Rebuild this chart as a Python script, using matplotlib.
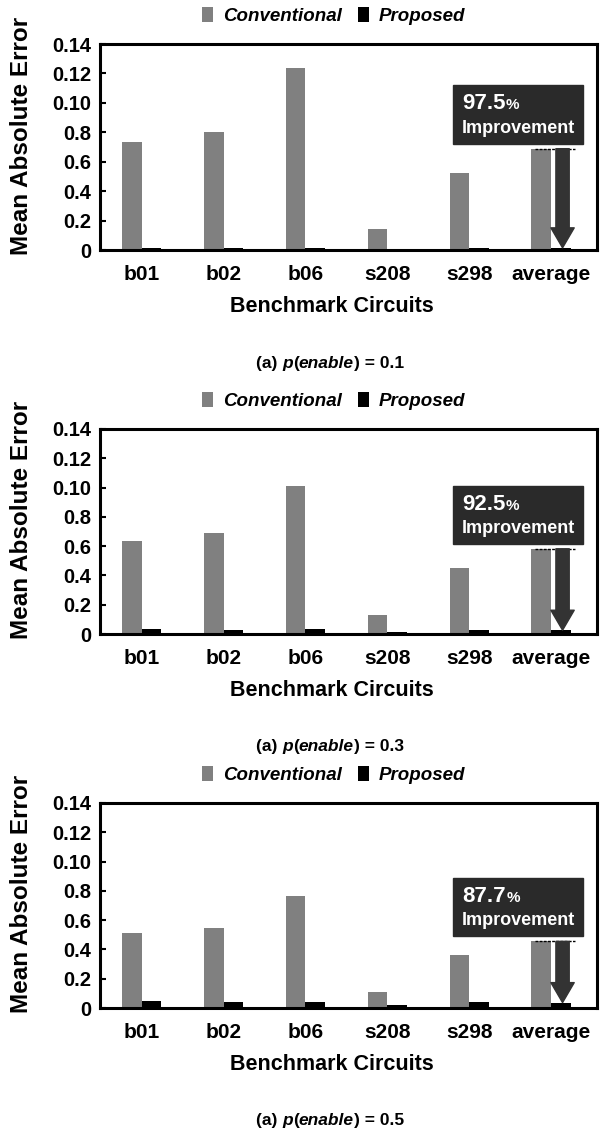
import matplotlib
matplotlib.use("Agg")
import matplotlib.pyplot as plt
from matplotlib.patches import Rectangle

plt.rcParams["font.family"] = ["Liberation Sans", "DejaVu Sans"]

categories = ["b01", "b02", "b06", "s208", "s298", "average"]
ytick_values = [0, 0.02, 0.04, 0.06, 0.08, 0.10, 0.12, 0.14]
ytick_labels = ["0", "0.2", "0.4", "0.6", "0.8", "0.10", "0.12", "0.14"]

conv_01 = [0.0732, 0.0800, 0.1234, 0.0141, 0.0523, 0.0689]
prop_01 = [0.0014, 0.0012, 0.0012, 0.0009, 0.0012, 0.0015]
conv_03 = [0.0636, 0.0689, 0.1008, 0.0130, 0.0449, 0.0582]
prop_03 = [0.0037, 0.0028, 0.0032, 0.0011, 0.0030, 0.0026]
conv_05 = [0.0512, 0.0546, 0.0762, 0.0107, 0.0364, 0.0455]
prop_05 = [0.0050, 0.0041, 0.0041, 0.0018, 0.0043, 0.0037]

improvements = ["97.5", "92.5", "87.7"]
p_enable = ["0.1", "0.3", "0.5"]

GRAY = "#808080"
DARK = "#2a2a2a"


def caption(ax, x, y, value):
    parts = [("(a) ", "normal"), ("p", "italic"), ("(", "normal"),
             ("enable", "italic"), (f") = {value}", "normal")]
    t = ax.figure.text(x, y, parts[0][0], fontsize=12.5, fontweight="bold",
                       ha="left", va="center")
    for s, style in parts[1:]:
        t = ax.annotate(s, xy=(1, 0), xycoords=t, ha="left", va="bottom",
                        fontsize=12.5, fontweight="bold", fontstyle=style,
                        annotation_clip=False)


def panel(fig, rect, conv, prop, improvement, pval, cap_y):
    ax = fig.add_axes(rect)
    x = list(range(len(categories)))
    w = 0.24
    ax.bar([i - w / 2 for i in x], conv, width=w, color=GRAY, label="Conventional")
    ax.bar([i + w / 2 for i in x], prop, width=w, color="black", label="Proposed")

    ax.set_xlim(-0.51, 5.56)
    ax.set_ylim(0, 0.14)
    ax.set_yticks(ytick_values)
    ax.set_yticklabels(ytick_labels)
    ax.set_xticks(x)
    ax.set_xticklabels(categories)
    ax.tick_params(axis="y", direction="in", length=4, width=1.5, labelsize=14.5, pad=6.5)
    ax.tick_params(axis="x", length=0, labelsize=15, pad=10.5)
    for lab in ax.get_xticklabels() + ax.get_yticklabels():
        lab.set_fontweight("bold")
    for sp in ax.spines.values():
        sp.set_linewidth(2.2)

    ax.set_xlabel("Benchmark Circuits", fontsize=15.5, fontweight="bold",
                  labelpad=9, x=0.467)
    ax.set_ylabel("Mean Absolute Error", fontsize=17.5, fontweight="bold")
    ax.yaxis.set_label_coords(-0.135, 0.555)

    ax.legend(loc="center", bbox_to_anchor=(0.47, 1.135), ncol=2, frameon=False,
              handlelength=0.6, handleheight=0.85, handletextpad=0.5,
              columnspacing=0.85, borderpad=0.2,
              prop={"weight": "bold", "style": "italic", "size": 13.5})

    # improvement annotation on the average group
    avg_c = conv[-1]
    avg_p = prop[-1]
    n = len(categories) - 1
    ax.plot([n - 0.20, n + 0.29], [avg_c, avg_c], color="black", lw=1,
            dashes=(2, 1))
    ax.annotate("", xy=(n + 0.14, avg_p), xytext=(n + 0.14, avg_c),
                arrowprops=dict(arrowstyle="simple,head_length=1.2,head_width=1.4,tail_width=0.8",
                                mutation_scale=12, color="#333333",
                                shrinkA=0, shrinkB=0))
    box_y0 = avg_c + 0.0035
    box_h = 0.0395
    ax.add_patch(Rectangle((n - 1.20, box_y0), 1.59, box_h, color=DARK, zorder=4))
    num = ax.text(n - 1.09, box_y0 + box_h - 0.0125, improvement, color="white",
                  fontsize=16, fontweight="bold", ha="left", va="center", zorder=5)
    ax.annotate("%", xy=(1, 0), xycoords=num, xytext=(0.5, 1.5), textcoords="offset points",
                ha="left", va="bottom", color="white", fontsize=11,
                fontweight="bold", zorder=5)
    ax.text(n - 0.405, box_y0 + 0.0105, "Improvement", color="white", fontsize=13,
            fontweight="bold", ha="center", va="center", zorder=5)

    caption(ax, 0.425, cap_y, pval)
    return ax


fig = plt.figure(figsize=(6.02, 11.33), dpi=100)
rects = [
    [0.166, 0.7793, 0.8256, 0.1818],
    [0.166, 0.4404, 0.8256, 0.1810],
    [0.166, 0.1103, 0.8256, 0.1810],
]
cap_ys = [0.6795, 0.3407, 0.0106]
series = [(conv_01, prop_01), (conv_03, prop_03), (conv_05, prop_05)]

for rect, (c, p), imp, pv, cy in zip(rects, series, improvements, p_enable, cap_ys):
    panel(fig, rect, c, p, imp, pv, cy)

fig.savefig("out.png", dpi=100)
